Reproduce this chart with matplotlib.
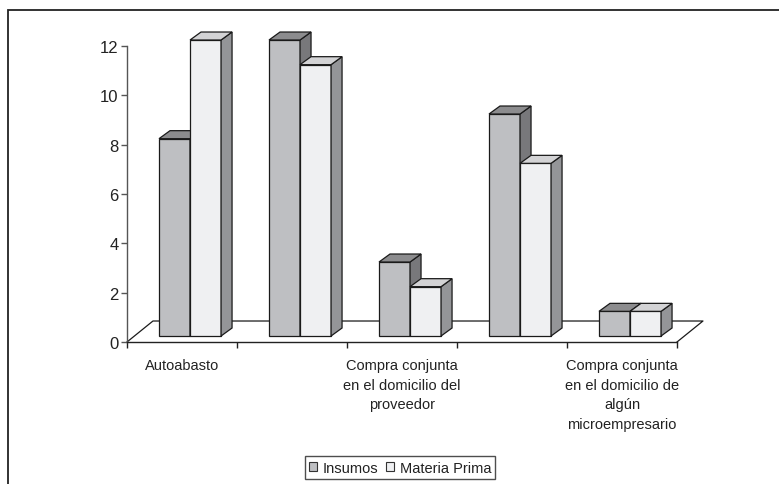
import matplotlib
matplotlib.use("Agg")
import matplotlib.pyplot as plt
from matplotlib.patches import Polygon, Patch, Rectangle
import numpy as np

plt.rcParams['font.family'] = ['Liberation Sans', 'DejaVu Sans']

# Data
categorias = ['Autoabasto', '',
              'Compra conjunta\nen el domicilio del\nproveedor', '',
              'Compra conjunta\nen el domicilio de\nalgún\nmicroempresario']
insumos = [8, 12, 3, 9, 1]
materia_prima = [12, 11, 2, 7, 1]
series_names = ['Insumos', 'Materia Prima']

# face colours: front, top, side
col_insumos = ('#bebfc2', '#8c8c8e', '#78787b')
col_materia = ('#eff0f2', '#d3d3d5', '#949598')

# pseudo-3D geometry (data units)
bar_w = 0.282
grp_off = 0.573
off_y = 0.243                      # bars sit a little back on the floor
dep_x, dep_y = 0.10, 0.324         # bar depth
floor_x, floor_y = 0.236, 0.851    # floor depth

fig = plt.figure(figsize=(7.79, 4.85), dpi=100)
ax = fig.add_axes([127/779, 1 - 343/485, 550/779, 296/485])
ax.set_xlim(0, 5)
ax.set_ylim(0, 12)
ax.patch.set_visible(False)

n = len(categorias)
x = np.arange(n)
edge = '#1a1a1a'
lw = 0.9

# floor outline
ax.plot([0, floor_x, n + floor_x, n], [0, floor_y, floor_y, 0],
        color=edge, lw=0.9, zorder=1, clip_on=False)


def draw_series(xs, vals, cols, z):
    fronts = ax.bar(xs, vals, width=bar_w, bottom=off_y, align='edge',
                    color=cols[0], edgecolor=edge, linewidth=lw,
                    zorder=z, clip_on=False)
    for rect in fronts:
        x0 = rect.get_x()
        x1 = x0 + rect.get_width()
        y0 = rect.get_y()
        y1 = y0 + rect.get_height()
        side = Polygon([(x1, y0), (x1 + dep_x, y0 + dep_y),
                        (x1 + dep_x, y1 + dep_y), (x1, y1)],
                       closed=True, fc=cols[2], ec=edge, lw=lw,
                       joinstyle='miter', zorder=z + 0.1, clip_on=False)
        top = Polygon([(x0, y1), (x0 + dep_x, y1 + dep_y),
                       (x1 + dep_x, y1 + dep_y), (x1, y1)],
                      closed=True, fc=cols[1], ec=edge, lw=lw,
                      joinstyle='miter', zorder=z + 0.1, clip_on=False)
        ax.add_patch(side)
        ax.add_patch(top)


left = x + grp_off - bar_w
draw_series(left, insumos, col_insumos, 3)
draw_series(left + bar_w, materia_prima, col_materia, 4)

# axes styling
for s in ['top', 'right']:
    ax.spines[s].set_visible(False)
ax.spines['left'].set_color('#555555')
ax.spines['bottom'].set_color('#222222')
ax.spines['left'].set_linewidth(1.0)
ax.spines['bottom'].set_linewidth(1.0)

ax.set_yticks(np.arange(0, 13, 2))
ax.tick_params(axis='y', direction='out', length=4, width=1.0,
               color='#555555', labelsize=12, labelcolor='#222222', pad=2)

ax.set_xticks(np.arange(0, n + 1))
ax.set_xticklabels([])
ax.set_xticks(x + 0.5, minor=True)
ax.set_xticklabels(categorias, minor=True, fontsize=10.5, color='#222222',
                   linespacing=1.52, va='top')
ax.tick_params(axis='x', which='major', direction='out', length=4,
               width=1.0, color='#222222')
ax.tick_params(axis='x', which='minor', length=0, pad=11.5)

# legend
handles = [Patch(fc=col_insumos[0], ec='#333333', lw=0.8),
           Patch(fc=col_materia[0], ec='#333333', lw=0.8)]
leg = fig.legend(handles, series_names, loc='lower center',
                 bbox_to_anchor=(400/779, 5/485), ncol=2, fontsize=10.5,
                 frameon=True, fancybox=False, handlelength=0.55,
                 handleheight=0.55, handletextpad=0.4, columnspacing=0.5,
                 borderpad=0.3, borderaxespad=0)
leg.get_frame().set_edgecolor('#222222')
leg.get_frame().set_linewidth(1.0)
for t in leg.get_texts():
    t.set_color('#222222')

# outer chart border (only left and top edges fall inside the image)
fig.patches.append(Rectangle((8/779, -0.5), 2.0, 1.5 - 11/485,
                             transform=fig.transFigure, fill=False,
                             ec='#222222', lw=1.3))

fig.savefig('out.png', dpi=100, facecolor='white')
